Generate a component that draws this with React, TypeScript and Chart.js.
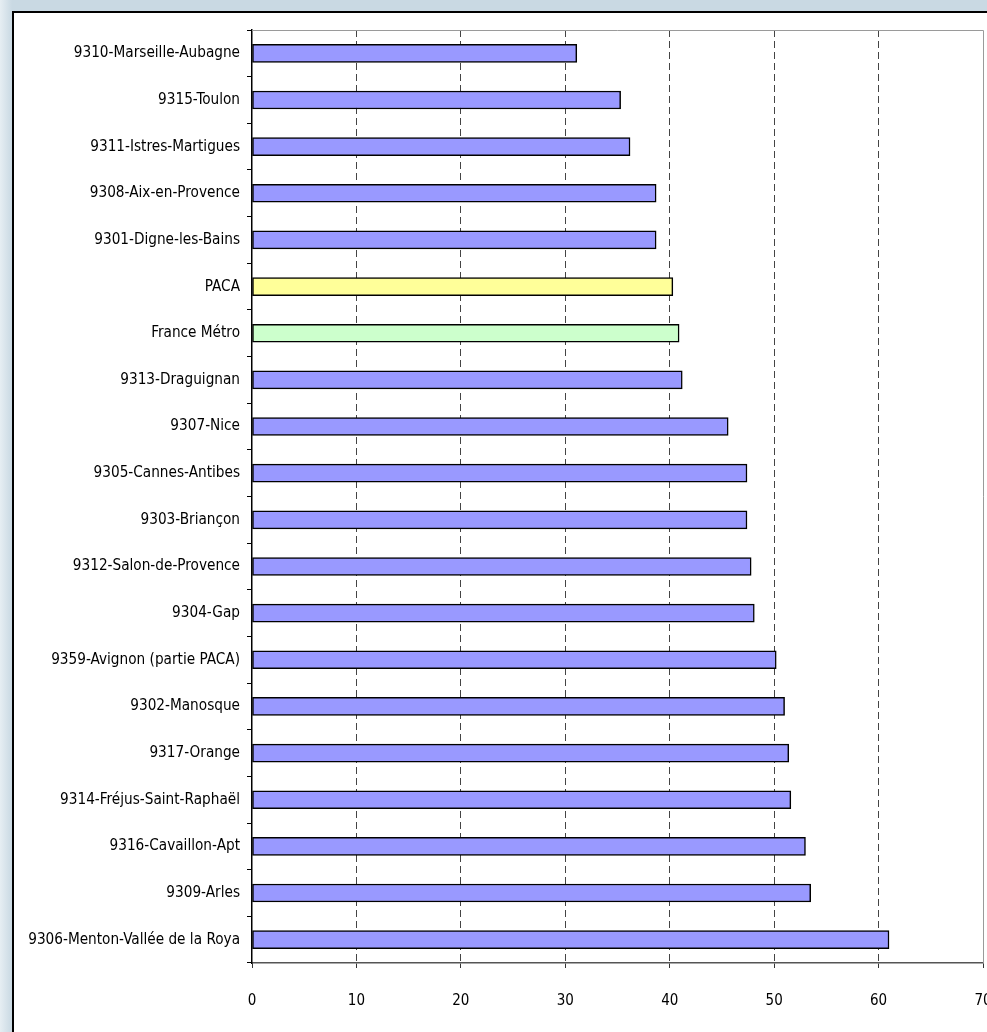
import React, { useEffect, useRef } from "react";
import { Chart, registerables } from "chart.js";

Chart.register(...registerables);

const categories = [
  "9310-Marseille-Aubagne",
  "9315-Toulon",
  "9311-Istres-Martigues",
  "9308-Aix-en-Provence",
  "9301-Digne-les-Bains",
  "PACA",
  "France Métro",
  "9313-Draguignan",
  "9307-Nice",
  "9305-Cannes-Antibes",
  "9303-Briançon",
  "9312-Salon-de-Provence",
  "9304-Gap",
  "9359-Avignon (partie PACA)",
  "9302-Manosque",
  "9317-Orange",
  "9314-Fréjus-Saint-Raphaël",
  "9316-Cavaillon-Apt",
  "9309-Arles",
  "9306-Menton-Vallée de la Roya",
];

const values = [
  31.1, 35.3, 36.2, 38.7, 38.7, 40.3, 40.9, 41.2, 45.6, 47.4,
  47.4, 47.8, 48.1, 50.2, 51.0, 51.4, 51.6, 53.0, 53.5, 61.0,
];

const xTicks = [0, 10, 20, 30, 40, 50, 60, 70];

const FONT = "'Liberation Sans Narrow', 'DejaVu Sans Condensed', sans-serif";

const barColor = (label: string) =>
  label === "PACA" ? "#ffff99" : label === "France Métro" ? "#ccffcc" : "#9999ff";

const framePlugin = {
  id: "frame",
  afterDatasetsDraw(chart: any) {
    const { ctx, chartArea } = chart;
    ctx.save();
    ctx.strokeStyle = "#9a9a9a";
    ctx.lineWidth = 1;
    ctx.beginPath();
    ctx.moveTo(chartArea.left, chartArea.top + 0.5);
    ctx.lineTo(chartArea.right + 0.5, chartArea.top + 0.5);
    ctx.lineTo(chartArea.right + 0.5, chartArea.bottom);
    ctx.stroke();
    ctx.restore();
  },
};

export default function App() {
  const ref = useRef<HTMLCanvasElement>(null);

  useEffect(() => {
    if (!ref.current) return;
    const chart = new Chart(ref.current, {
      type: "bar",
      data: {
        labels: categories,
        datasets: [
          {
            data: values,
            backgroundColor: categories.map(barColor),
            borderColor: "#000000",
            borderWidth: 1.5,
            borderSkipped: false,
            barThickness: 18,
          },
        ],
      },
      options: {
        indexAxis: "y",
        animation: false,
        responsive: false,
        devicePixelRatio: 1,
        layout: { padding: { left: 0, right: 27, top: 30, bottom: 0 } },
        plugins: { legend: { display: false }, tooltip: { enabled: false } },
        scales: {
          x: {
            type: "linear",
            min: 0,
            max: 70,
            afterBuildTicks: (scale: any) => {
              scale.ticks = xTicks.map((v) => ({ value: v }));
            },
            afterFit: (scale: any) => {
              scale.height = 69;
              scale.paddingLeft = 0;
              scale.paddingRight = 0;
            },
            grid: {
              color: (c: any) =>
                c.tick && (c.tick.value === 0 || c.tick.value === 70) ? "rgba(0,0,0,0)" : "#444444",
              lineWidth: 1,
              drawTicks: true,
              tickLength: 5,
              tickColor: "#333333",
              tickWidth: 1,
            },
            border: { display: true, color: "#555555", width: 1.5, dash: [7, 4] },
            ticks: {
              color: "#000000",
              padding: 24,
              font: { family: FONT, size: 15 },
              maxRotation: 0,
            },
          },
          y: {
            type: "category",
            afterFit: (scale: any) => {
              scale.width = 252;
              scale.paddingTop = 0;
              scale.paddingBottom = 0;
            },
            grid: {
              offset: true,
              drawOnChartArea: false,
              drawTicks: true,
              tickLength: 5,
              tickColor: "#000000",
              color: "#000000",
            },
            border: { display: true, color: "#000000", width: 1.5 },
            ticks: {
              color: "#000000",
              padding: 7,
              font: { family: FONT, size: 15.2 },
            },
          },
        },
      },
      plugins: [framePlugin],
    });
    return () => chart.destroy();
  }, []);

  return (
    <div
      style={{
        position: "fixed",
        inset: 0,
        overflow: "hidden",
        background: "linear-gradient(90deg, #e6eef3 0px, #c9d9e3 12px, #c9d9e3 100%)",
      }}
    >
      <div
        style={{
          position: "absolute",
          left: 12,
          top: 11,
          width: 1010,
          height: 1060,
          border: "2px solid #000",
          background: "#ffffff",
        }}
      />
      <canvas
        ref={ref}
        width={1010}
        height={1032}
        style={{ position: "absolute", left: 0, top: 0, width: 1010, height: 1032 }}
      />
    </div>
  );
}
